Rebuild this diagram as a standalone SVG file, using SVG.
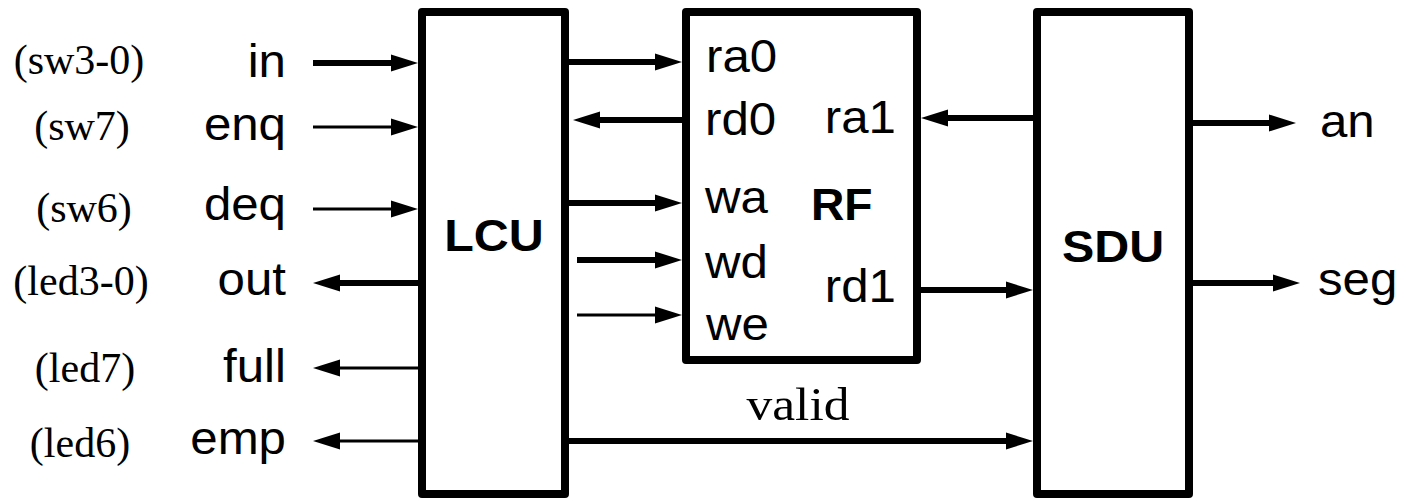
<svg xmlns="http://www.w3.org/2000/svg" width="1406" height="501" viewBox="0 0 1406 501">
<style>
.box{fill:#fff;stroke:#000;stroke-width:8;stroke-linejoin:round}
.w{stroke:#000;stroke-width:6;fill:none}
.t{stroke:#000;stroke-width:3;fill:none}
.a{font-family:"Liberation Sans",Arial,sans-serif;font-size:46px;fill:#000}
.b{font-family:"Liberation Sans",Arial,sans-serif;font-size:44px;font-weight:bold;fill:#000}
.s{font-family:"Liberation Serif","Times New Roman",serif;font-size:42px;fill:#000}
.v{font-size:46px}
</style>
<defs>
<marker id="ah" markerUnits="userSpaceOnUse" markerWidth="28" markerHeight="18" refX="0" refY="9" orient="auto">
<path d="M0,0.5 L27,9 L0,17.5 z" fill="#000"/>
</marker>
</defs>
<g id="LCU">
<rect class="box" x="422" y="12" width="143" height="482"/>
<text class="b" transform="translate(494,251) scale(1.1,1)" text-anchor="middle">LCU</text>
</g>
<g id="RF">
<rect class="box" x="686" y="12" width="231" height="348"/>
<text class="b" transform="translate(811,220) scale(1.05,1)">RF</text>
<text class="a" transform="translate(706,72) scale(1.07,1)">ra0</text>
<text class="a" transform="translate(705,135) scale(1.07,1)">rd0</text>
<text class="a" transform="translate(705,213) scale(1.07,1)">wa</text>
<text class="a" transform="translate(705,278) scale(1.07,1)">wd</text>
<text class="a" transform="translate(706,340) scale(1.07,1)">we</text>
<text class="a" transform="translate(896,133) scale(1.07,1)" text-anchor="end">ra1</text>
<text class="a" transform="translate(896,302) scale(1.07,1)" text-anchor="end">rd1</text>
</g>
<g id="SDU">
<rect class="box" x="1037" y="12" width="152" height="482"/>
<text class="b" transform="translate(1113,262) scale(1.1,1)" text-anchor="middle">SDU</text>
</g>
<g id="labels">
<text class="a" transform="translate(286,77) scale(1.07,1)" text-anchor="end">in</text>
<text class="a" transform="translate(286,140) scale(1.07,1)" text-anchor="end">enq</text>
<text class="a" transform="translate(286,220) scale(1.07,1)" text-anchor="end">deq</text>
<text class="a" transform="translate(286,295) scale(1.07,1)" text-anchor="end">out</text>
<text class="a" transform="translate(286,382) scale(1.07,1)" text-anchor="end">full</text>
<text class="a" transform="translate(286,454) scale(1.07,1)" text-anchor="end">emp</text>
<text class="s" x="79" y="74" text-anchor="middle">(sw3-0)</text>
<text class="s" x="82" y="140" text-anchor="middle">(sw7)</text>
<text class="s" x="84" y="222" text-anchor="middle">(sw6)</text>
<text class="s" x="81" y="295" text-anchor="middle">(led3-0)</text>
<text class="s" x="85" y="382" text-anchor="middle">(led7)</text>
<text class="s" x="80" y="457" text-anchor="middle">(led6)</text>
<text class="a" transform="translate(1320,137) scale(1.07,1)">an</text>
<text class="a" transform="translate(1318,295) scale(1.07,1)">seg</text>
<text class="s v" transform="translate(798,420) scale(1.12,1)" text-anchor="middle">valid</text>
</g>
<g id="connectors">
<line class="w" x1="313" y1="63" x2="391" y2="63" marker-end="url(#ah)"/>
<line class="t" x1="313" y1="127" x2="391" y2="127" marker-end="url(#ah)"/>
<line class="t" x1="313" y1="209" x2="391" y2="209" marker-end="url(#ah)"/>
<line class="w" x1="418" y1="283" x2="340" y2="283" marker-end="url(#ah)"/>
<line class="t" x1="418" y1="368" x2="340" y2="368" marker-end="url(#ah)"/>
<line class="t" x1="418" y1="441" x2="340" y2="441" marker-end="url(#ah)"/>
<line class="w" x1="569" y1="62" x2="655" y2="62" marker-end="url(#ah)"/>
<line class="w" x1="682" y1="120" x2="600" y2="120" marker-end="url(#ah)"/>
<line class="w" x1="569" y1="203" x2="655" y2="203" marker-end="url(#ah)"/>
<line class="w" x1="577" y1="260" x2="655" y2="260" marker-end="url(#ah)"/>
<line class="t" x1="577" y1="315" x2="655" y2="315" marker-end="url(#ah)"/>
<line class="w" x1="1033" y1="118" x2="948" y2="118" marker-end="url(#ah)"/>
<line class="w" x1="921" y1="290" x2="1006" y2="290" marker-end="url(#ah)"/>
<line class="w" x1="569" y1="441" x2="1006" y2="441" marker-end="url(#ah)"/>
<line class="w" x1="1193" y1="123" x2="1269" y2="123" marker-end="url(#ah)"/>
<line class="w" x1="1193" y1="283" x2="1273" y2="283" marker-end="url(#ah)"/>
</g>
</svg>
